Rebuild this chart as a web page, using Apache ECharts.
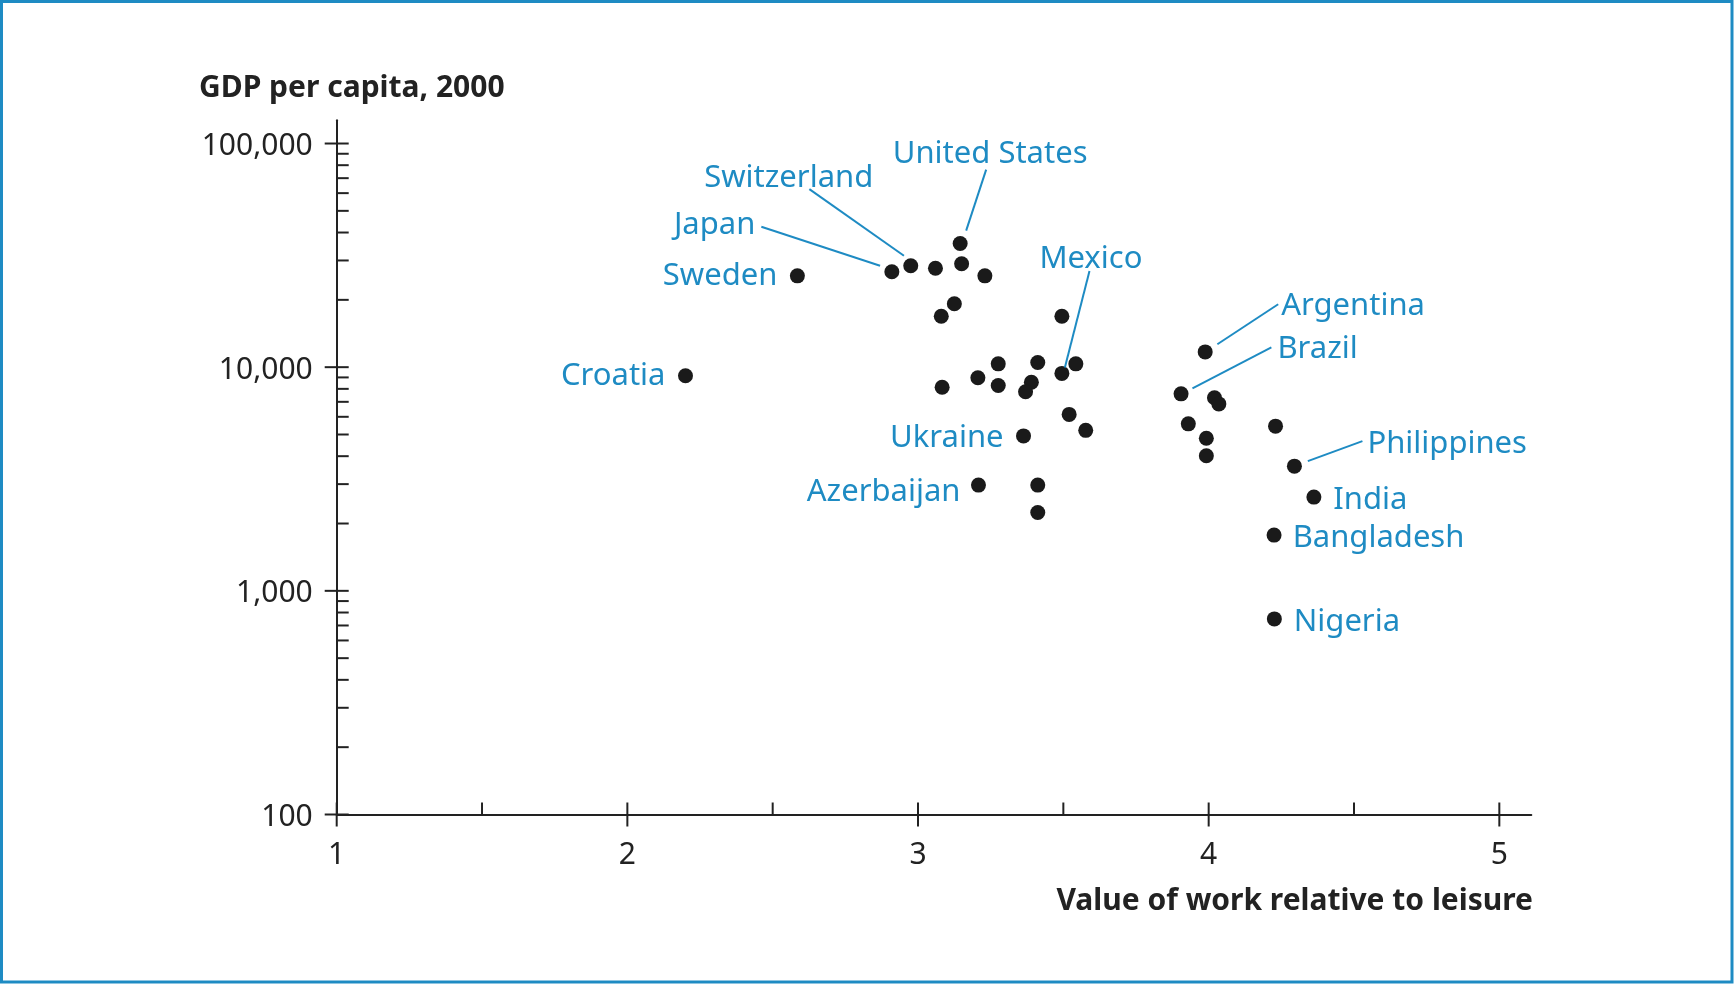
<!DOCTYPE html>
<html>
<head>
<meta charset="utf-8">
<script src="https://cdn.jsdelivr.net/npm/echarts@6/dist/echarts.min.js"></script>
<style>
html,body{margin:0;padding:0;background:#fff;}
#chart{width:1735px;height:984px;}
</style>
</head>
<body>
<div id="chart"></div>
<script>
// ---------- data ----------
const countryNames = [
  'Croatia','Sweden','Japan','Switzerland','','United States','','','','','',
  'Mexico','','','','','','','','','','',
  'Ukraine','Azerbaijan','','',
  'Argentina','Brazil','','','','','','',
  'Philippines','India','Bangladesh','Nigeria'
];
const workValue = [
  2.20, 2.585, 2.91, 2.975, 3.06, 3.145, 3.15, 3.23, 3.125, 3.08, 3.495,
  3.495, 3.543, 3.412, 3.276, 3.206, 3.276, 3.083, 3.39, 3.37, 3.52, 3.577,
  3.363, 3.208, 3.412, 3.412,
  3.988, 3.905, 4.02, 4.035, 3.93, 3.992, 3.992, 4.23,
  4.295, 4.362, 4.225, 4.226
];
const gdpPerCapita = [
  9150, 25600, 26700, 28400, 27700, 35700, 29000, 25600, 19200, 16900, 16900,
  9380, 10350, 10500, 10350, 8970, 8280, 8130, 8560, 7760, 6150, 5220,
  4930, 2970, 2970, 2240,
  11700, 7600, 7300, 6850, 5580, 4810, 4020, 5450,
  3610, 2625, 1775, 749
];
const xTickValues = [1, 2, 3, 4, 5];
const xMinorTickValues = [1.5, 2.5, 3.5, 4.5];
const yTickValues = [100, 1000, 10000, 100000];
const yMinorTickValues = [200,300,400,500,600,700,800,900,
                          2000,3000,4000,5000,6000,7000,8000,9000,
                          20000,30000,40000,50000,60000,70000,80000,90000];
const yAxisTitle = 'GDP per capita, 2000';
const xAxisTitle = 'Value of work relative to leisure';

// ---------- styling / layout ----------
const X_MIN = 1, X_MAX = 5.11, Y_MIN = 100, Y_MAX = 127000;
const BLUE = '#1e8bc3';
const INK = '#222222';
const FONT = '"Noto Sans", "Open Sans", sans-serif';
const TICK = 12;
const LY = 3.5; // vertical nudge for label text

// label placement (pixel offsets from the dot)
const annot = {
  'United States': {dx: 30, dy: -93, align: 'center', line: [26, -74, 6, -13]},
  'Switzerland':   {dx: -37.5, dy: -91, align: 'right', line: [-101.4, -76.7, -6.8, -10]},
  'Japan':         {dx: -136.5, dy: -50, align: 'right', line: [-130.5, -45, -11.8, -6]},
  'Sweden':        {dx: -20, dy: -3, align: 'right'},
  'Croatia':       {dx: -20, dy: -3.5, align: 'right'},
  'Mexico':        {dx: 29, dy: -118, align: 'center', line: [27.6, -102.3, 3, -6]},
  'Ukraine':       {dx: -20, dy: -1.5, align: 'right'},
  'Azerbaijan':    {dx: -18, dy: 4, align: 'right'},
  'Argentina':     {dx: 76, dy: -49, align: 'left', line: [73, -47.7, 12.2, -7.7]},
  'Brazil':        {dx: 96.4, dy: -48, align: 'left', line: [90.3, -46.4, 11.4, -5.4]},
  'Philippines':   {dx: 73, dy: -25.7, align: 'left', line: [68, -25, 13.4, -5]},
  'India':         {dx: 19.4, dy: 0, align: 'left'},
  'Bangladesh':    {dx: 18.6, dy: 0, align: 'left'},
  'Nigeria':       {dx: 19.4, dy: 0, align: 'left'}
};

const scatterData = workValue.map((x, i) => [x, gdpPerCapita[i]]);
const labeledIdx = countryNames.map((n, i) => n ? i : -1).filter(i => i >= 0);
const labelData = labeledIdx.map(i => [workValue[i], gdpPerCapita[i], i]);

// tick marks: kind 0 x major, 1 x minor, 2 y major, 3 y minor
const tickData = []
  .concat(xTickValues.map(v => [v, Y_MIN, 0]))
  .concat(xMinorTickValues.map(v => [v, Y_MIN, 1]))
  .concat(yTickValues.map(v => [X_MIN, v, 2]))
  .concat(yMinorTickValues.map(v => [X_MIN, v, 3]));

const chart = echarts.init(document.getElementById('chart'), null, {renderer: 'canvas'});

const option = {
  backgroundColor: '#ffffff',
  animation: false,
  title: [
    {text: yAxisTitle, left: 199, top: 73, padding: 0,
     textStyle: {fontFamily: FONT, fontWeight: 'bold', fontSize: 30, color: INK}},
    {text: xAxisTitle, right: 202, top: 886, padding: 0,
     textStyle: {fontFamily: FONT, fontWeight: 'bold', fontSize: 30, color: INK}}
  ],
  graphic: [
    {type: 'rect', shape: {x: 1.5, y: 1.5, width: 1730.5, height: 980.5},
     style: {fill: 'none', stroke: BLUE, lineWidth: 3}, silent: true}
  ],
  grid: {left: 336.7, right: 203.7, top: 120.3, bottom: 169.5, containLabel: false},
  xAxis: {
    type: 'value', min: X_MIN, max: X_MAX, interval: 1,
    axisLine: {onZero: false, lineStyle: {color: INK, width: 2}},
    axisTick: {show: false},
    splitLine: {show: false},
    axisLabel: {
      margin: 26, fontSize: 30, fontFamily: FONT, color: INK,
      formatter: v => (Math.abs(v - Math.round(v)) < 1e-9 ? String(Math.round(v)) : '')
    }
  },
  yAxis: {
    type: 'log', logBase: 10, min: Y_MIN, max: Y_MAX,
    axisLine: {onZero: false, lineStyle: {color: INK, width: 2}},
    axisTick: {show: false},
    splitLine: {show: false},
    axisLabel: {
      margin: 24, fontSize: 30, fontFamily: FONT, color: INK,
      formatter: v => {
        const l = Math.log10(v);
        return Math.abs(l - Math.round(l)) < 1e-6 ? '{t|' + Math.round(v).toLocaleString('en-US') + '}' : '';
      },
      rich: {
        t: {fontSize: 30, fontFamily: FONT, color: INK, padding: [6, 0, 0, 0]}
      }
    }
  },
  series: [
    {
      type: 'custom', name: 'ticks', silent: true, clip: false, z: 1,
      data: tickData,
      renderItem: (params, api) => {
        const kind = api.value(2);
        const p = api.coord([api.value(0), api.value(1)]);
        let shape;
        if (kind === 0) shape = {x1: p[0], y1: p[1] - TICK, x2: p[0], y2: p[1] + TICK};
        else if (kind === 1) shape = {x1: p[0], y1: p[1] - TICK, x2: p[0], y2: p[1]};
        else if (kind === 2) shape = {x1: p[0] - TICK, y1: p[1], x2: p[0] + TICK, y2: p[1]};
        else shape = {x1: p[0], y1: p[1], x2: p[0] + TICK, y2: p[1]};
        return {type: 'line', shape, style: {stroke: INK, lineWidth: 2}};
      }
    },
    {
      type: 'scatter', name: 'countries', silent: true, z: 3,
      symbol: 'circle', symbolSize: 15,
      itemStyle: {color: '#1a1a1a', opacity: 1},
      data: scatterData
    },
    {
      type: 'custom', name: 'labels', silent: true, clip: false, z: 4,
      data: labelData,
      renderItem: (params, api) => {
        const idx = api.value(2);
        const name = countryNames[idx];
        const a = annot[name];
        const p = api.coord([api.value(0), api.value(1)]);
        const children = [{
          type: 'text', x: p[0] + a.dx, y: p[1] + a.dy + LY,
          style: {text: name, fill: BLUE, fontSize: 31, fontFamily: FONT,
                  align: a.align, verticalAlign: 'middle'}
        }];
        if (a.line) {
          children.push({
            type: 'line',
            shape: {x1: p[0] + a.line[0], y1: p[1] + a.line[1], x2: p[0] + a.line[2], y2: p[1] + a.line[3]},
            style: {stroke: BLUE, lineWidth: 2}
          });
        }
        return {type: 'group', children};
      }
    }
  ]
};
chart.setOption(option);
</script>
</body>
</html>
